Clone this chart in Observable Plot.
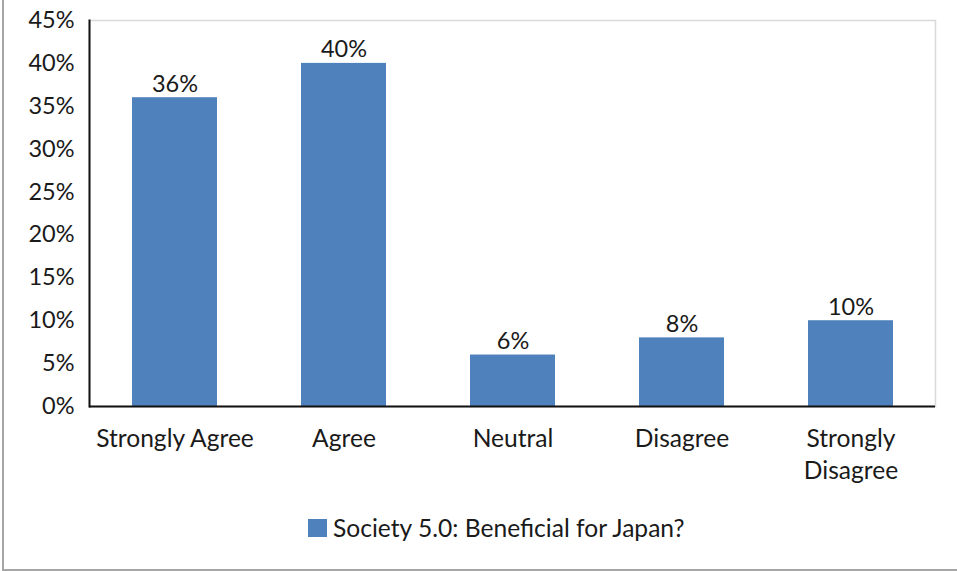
<!DOCTYPE html>
<html>
<head>
<meta charset="utf-8">
<script src="https://cdn.jsdelivr.net/npm/d3@7"></script>
<script src="https://cdn.jsdelivr.net/npm/@observablehq/plot@0.6"></script>
<style>
  html, body { margin: 0; padding: 0; background: #fff; }
  body { width: 957px; height: 571px; position: relative; overflow: hidden; font-family: Lato, "Open Sans", sans-serif; }
  #frame { position: absolute; left: 2px; top: -6px; width: 1000px; height: 577px; border: 2px solid #a6a6a6; box-sizing: border-box; }
  #chart { position: absolute; left: 0; top: 0; }
  #legend { position: absolute; left: 0; top: 500px; width: 957px; height: 71px; }
  #legend .item { position: absolute; left: 308px; top: 13px; display: flex; align-items: center; font-size: 24.6px; color: #1a1a1a; }
  #legend .swatch { width: 19px; height: 18px; background: #4f81bd; margin-right: 6px; }
</style>
</head>
<body>
<div id="frame"></div>
<div id="chart"></div>
<div id="legend"><div class="item"><span class="swatch"></span><span id="legend-label"></span></div></div>
<script>
// Survey responses: share of respondents per answer
const categories = ["Strongly Agree", "Agree", "Neutral", "Disagree", "Strongly Disagree"];
const shares = [0.36, 0.40, 0.06, 0.08, 0.10];
const seriesName = "Society 5.0: Beneficial for Japan?";
const yTicks = [0, 0.05, 0.10, 0.15, 0.20, 0.25, 0.30, 0.35, 0.40, 0.45];
const xLabels = ["Strongly Agree", "Agree", "Neutral", "Disagree", "Strongly\nDisagree"];

const rows = categories.map((c, i) => ({category: c, share: shares[i]}));
const pct = d3.format(".0%");
const barColor = "#4f81bd";
const ink = "#1a1a1a";
const fs = 23.5;
const fsX = 24.6;

const chart = Plot.plot({
  width: 957,
  height: 500,
  marginTop: 20,
  marginBottom: 94,
  marginLeft: 89,
  marginRight: 22,
  style: {fontFamily: "Lato, 'Open Sans', sans-serif", fontSize: `${fs}px`, color: ink, background: "transparent"},
  x: {domain: categories, paddingInner: 0.5, paddingOuter: 0.25, label: null},
  y: {domain: [0, 0.45], label: null},
  marks: [
    Plot.frame({stroke: "#d9d9d9", strokeWidth: 1.5}),
    Plot.barY(rows, {x: "category", y: "share", fill: barColor}),
    Plot.text(rows, {x: "category", y: "share", text: d => pct(d.share), lineAnchor: "bottom", dy: -6, fill: ink, fontSize: fs}),
    Plot.axisY({ticks: yTicks, tickFormat: pct, tickSize: 0, tickPadding: 15, label: null, fill: ink, fontSize: fs}),
    Plot.axisX({tickSize: 0, tickPadding: 18, tickFormat: d => xLabels[categories.indexOf(d)], lineHeight: 1.3, label: null, fill: ink, fontSize: fsX}),
    // dark value axes on the left and bottom
    Plot.frame({anchor: "left", stroke: "#111", strokeWidth: 2}),
    Plot.ruleY([0], {stroke: "#111", strokeWidth: 2})
  ]
});
document.getElementById("chart").appendChild(chart);
document.getElementById("legend-label").textContent = seriesName;
</script>
</body>
</html>
